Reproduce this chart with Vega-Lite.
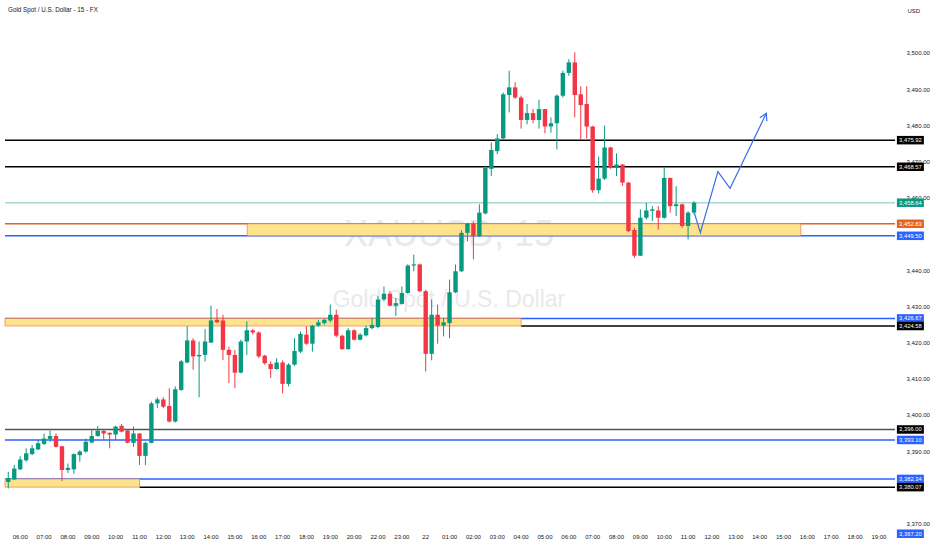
{
  "$schema": "https://vega.github.io/schema/vega-lite/v6.json",
  "description": "XAUUSD 15m candles with levels and zones",
  "width": 900,
  "height": 530,
  "autosize": {"type": "none"},
  "padding": {"left": 0, "top": 0, "right": 32, "bottom": 20},
  "background": "#ffffff",
  "datasets": {
    "candles": [
      {"idx":0,"open":3381.5,"high":3384.3,"low":3379.7,"close":3382.6},
      {"idx":1,"open":3382.2,"high":3386.2,"low":3382.0,"close":3385.2},
      {"idx":2,"open":3385.0,"high":3388.6,"low":3384.8,"close":3387.7},
      {"idx":3,"open":3387.5,"high":3390.8,"low":3387.1,"close":3389.4},
      {"idx":4,"open":3389.2,"high":3391.7,"low":3388.9,"close":3390.8},
      {"idx":5,"open":3390.5,"high":3393.1,"low":3390.3,"close":3392.2},
      {"idx":6,"open":3392.0,"high":3394.9,"low":3391.7,"close":3393.5},
      {"idx":7,"open":3393.4,"high":3395.7,"low":3392.6,"close":3394.2},
      {"idx":8,"open":3394.2,"high":3394.9,"low":3391.0,"close":3391.2},
      {"idx":9,"open":3391.4,"high":3391.4,"low":3381.8,"close":3384.8},
      {"idx":10,"open":3384.8,"high":3386.6,"low":3384.0,"close":3385.4},
      {"idx":11,"open":3385.0,"high":3389.4,"low":3383.8,"close":3389.2},
      {"idx":12,"open":3388.9,"high":3390.3,"low":3387.1,"close":3389.9},
      {"idx":13,"open":3389.9,"high":3393.5,"low":3389.6,"close":3392.6},
      {"idx":14,"open":3392.4,"high":3396.0,"low":3392.2,"close":3394.2},
      {"idx":15,"open":3394.2,"high":3397.0,"low":3394.0,"close":3395.7},
      {"idx":16,"open":3395.6,"high":3396.0,"low":3393.3,"close":3394.9},
      {"idx":17,"open":3395.1,"high":3395.1,"low":3390.8,"close":3394.6},
      {"idx":18,"open":3394.6,"high":3397.0,"low":3393.1,"close":3396.8},
      {"idx":19,"open":3397.0,"high":3397.5,"low":3395.2,"close":3395.4},
      {"idx":20,"open":3395.7,"high":3396.0,"low":3392.2,"close":3392.3},
      {"idx":21,"open":3392.3,"high":3396.8,"low":3391.2,"close":3394.9},
      {"idx":22,"open":3394.9,"high":3394.9,"low":3386.2,"close":3388.7},
      {"idx":23,"open":3388.7,"high":3392.6,"low":3386.2,"close":3392.3},
      {"idx":24,"open":3392.3,"high":3403.7,"low":3392.2,"close":3403.2},
      {"idx":25,"open":3403.2,"high":3404.9,"low":3401.9,"close":3404.3},
      {"idx":26,"open":3404.3,"high":3404.9,"low":3401.9,"close":3402.3},
      {"idx":27,"open":3402.5,"high":3407.4,"low":3397.9,"close":3398.2},
      {"idx":28,"open":3398.2,"high":3407.9,"low":3397.9,"close":3407.1},
      {"idx":29,"open":3406.9,"high":3415.2,"low":3406.7,"close":3414.8},
      {"idx":30,"open":3414.5,"high":3424.5,"low":3414.3,"close":3420.6},
      {"idx":31,"open":3420.6,"high":3421.2,"low":3412.5,"close":3416.2},
      {"idx":32,"open":3416.2,"high":3420.3,"low":3404.9,"close":3416.6},
      {"idx":33,"open":3416.6,"high":3423.7,"low":3414.8,"close":3420.3},
      {"idx":34,"open":3420.0,"high":3430.2,"low":3419.9,"close":3426.1},
      {"idx":35,"open":3426.3,"high":3429.3,"low":3425.4,"close":3425.6},
      {"idx":36,"open":3426.1,"high":3427.7,"low":3415.2,"close":3418.0},
      {"idx":37,"open":3418.0,"high":3418.9,"low":3408.8,"close":3416.6},
      {"idx":38,"open":3416.6,"high":3418.0,"low":3407.4,"close":3411.7},
      {"idx":39,"open":3411.7,"high":3420.8,"low":3411.5,"close":3420.3},
      {"idx":40,"open":3420.3,"high":3425.9,"low":3416.6,"close":3423.4},
      {"idx":41,"open":3423.4,"high":3423.7,"low":3422.2,"close":3422.8},
      {"idx":42,"open":3422.8,"high":3423.1,"low":3415.7,"close":3416.2},
      {"idx":43,"open":3416.4,"high":3416.6,"low":3413.9,"close":3414.3},
      {"idx":44,"open":3414.1,"high":3414.8,"low":3410.2,"close":3412.7},
      {"idx":45,"open":3412.7,"high":3415.7,"low":3412.5,"close":3414.5},
      {"idx":46,"open":3414.5,"high":3415.1,"low":3406.0,"close":3408.6},
      {"idx":47,"open":3408.6,"high":3414.3,"low":3407.9,"close":3413.9},
      {"idx":48,"open":3413.9,"high":3421.2,"low":3413.6,"close":3417.7},
      {"idx":49,"open":3417.5,"high":3423.1,"low":3417.1,"close":3422.4},
      {"idx":50,"open":3422.2,"high":3424.5,"low":3419.4,"close":3419.7},
      {"idx":51,"open":3419.7,"high":3424.9,"low":3417.5,"close":3424.7},
      {"idx":52,"open":3424.7,"high":3426.3,"low":3424.3,"close":3425.6},
      {"idx":53,"open":3425.4,"high":3426.5,"low":3424.9,"close":3426.3},
      {"idx":54,"open":3426.1,"high":3430.5,"low":3425.6,"close":3427.7},
      {"idx":55,"open":3427.7,"high":3429.1,"low":3421.5,"close":3421.9},
      {"idx":56,"open":3421.9,"high":3422.2,"low":3418.0,"close":3418.2},
      {"idx":57,"open":3418.2,"high":3424.0,"low":3418.0,"close":3423.4},
      {"idx":58,"open":3423.4,"high":3423.7,"low":3420.6,"close":3420.8},
      {"idx":59,"open":3420.8,"high":3422.6,"low":3420.6,"close":3422.2},
      {"idx":60,"open":3422.0,"high":3424.7,"low":3421.7,"close":3424.0},
      {"idx":61,"open":3424.0,"high":3426.8,"low":3423.7,"close":3424.9},
      {"idx":62,"open":3424.3,"high":3432.8,"low":3424.0,"close":3431.9},
      {"idx":63,"open":3431.9,"high":3435.5,"low":3431.4,"close":3433.5},
      {"idx":64,"open":3433.5,"high":3434.2,"low":3430.0,"close":3430.2},
      {"idx":65,"open":3430.2,"high":3432.3,"low":3427.4,"close":3430.9},
      {"idx":66,"open":3430.7,"high":3435.5,"low":3430.5,"close":3433.7},
      {"idx":67,"open":3433.7,"high":3441.6,"low":3433.5,"close":3441.3},
      {"idx":68,"open":3441.3,"high":3444.3,"low":3439.7,"close":3441.6},
      {"idx":69,"open":3441.6,"high":3441.8,"low":3433.9,"close":3434.2},
      {"idx":70,"open":3434.2,"high":3434.6,"low":3412.0,"close":3416.9},
      {"idx":71,"open":3416.9,"high":3431.9,"low":3415.1,"close":3427.7},
      {"idx":72,"open":3427.7,"high":3430.5,"low":3419.7,"close":3424.7},
      {"idx":73,"open":3424.7,"high":3426.8,"low":3421.7,"close":3425.6},
      {"idx":74,"open":3425.4,"high":3437.4,"low":3421.2,"close":3433.9},
      {"idx":75,"open":3433.9,"high":3441.6,"low":3433.7,"close":3439.7},
      {"idx":76,"open":3439.7,"high":3451.0,"low":3439.5,"close":3450.3},
      {"idx":77,"open":3450.3,"high":3453.1,"low":3448.0,"close":3452.9},
      {"idx":78,"open":3452.9,"high":3453.5,"low":3443.0,"close":3449.4},
      {"idx":79,"open":3449.4,"high":3458.2,"low":3449.2,"close":3455.9},
      {"idx":80,"open":3455.7,"high":3468.8,"low":3455.4,"close":3468.3},
      {"idx":81,"open":3468.0,"high":3475.3,"low":3466.0,"close":3473.2},
      {"idx":82,"open":3472.9,"high":3477.6,"low":3472.0,"close":3476.4},
      {"idx":83,"open":3476.4,"high":3489.1,"low":3476.2,"close":3488.6},
      {"idx":84,"open":3488.4,"high":3495.1,"low":3483.6,"close":3490.5},
      {"idx":85,"open":3490.5,"high":3491.9,"low":3487.3,"close":3487.7},
      {"idx":86,"open":3487.7,"high":3488.2,"low":3479.1,"close":3481.5},
      {"idx":87,"open":3481.5,"high":3485.9,"low":3480.3,"close":3483.4},
      {"idx":88,"open":3483.4,"high":3484.5,"low":3480.6,"close":3481.5},
      {"idx":89,"open":3481.5,"high":3487.1,"low":3479.1,"close":3484.5},
      {"idx":90,"open":3484.5,"high":3484.5,"low":3477.8,"close":3479.7},
      {"idx":91,"open":3479.7,"high":3482.2,"low":3478.0,"close":3480.6},
      {"idx":92,"open":3480.6,"high":3488.6,"low":3473.4,"close":3488.2},
      {"idx":93,"open":3488.2,"high":3495.1,"low":3487.7,"close":3494.5},
      {"idx":94,"open":3494.5,"high":3498.3,"low":3493.7,"close":3497.4},
      {"idx":95,"open":3497.4,"high":3500.2,"low":3482.2,"close":3488.4},
      {"idx":96,"open":3488.6,"high":3490.8,"low":3476.2,"close":3485.6},
      {"idx":97,"open":3485.9,"high":3490.8,"low":3476.4,"close":3479.7},
      {"idx":98,"open":3479.7,"high":3479.9,"low":3461.4,"close":3462.1},
      {"idx":99,"open":3462.1,"high":3471.4,"low":3461.2,"close":3465.3},
      {"idx":100,"open":3465.3,"high":3480.0,"low":3464.9,"close":3473.9},
      {"idx":101,"open":3473.9,"high":3474.1,"low":3468.0,"close":3468.3},
      {"idx":102,"open":3468.3,"high":3472.3,"low":3466.0,"close":3469.2},
      {"idx":103,"open":3469.2,"high":3469.2,"low":3463.3,"close":3464.2},
      {"idx":104,"open":3464.2,"high":3464.4,"low":3450.5,"close":3450.8},
      {"idx":105,"open":3451.1,"high":3451.7,"low":3443.4,"close":3444.0},
      {"idx":106,"open":3444.0,"high":3456.8,"low":3443.9,"close":3454.5},
      {"idx":107,"open":3454.5,"high":3458.6,"low":3454.0,"close":3456.5},
      {"idx":108,"open":3456.4,"high":3457.7,"low":3453.6,"close":3456.8},
      {"idx":109,"open":3456.5,"high":3457.7,"low":3451.2,"close":3454.5},
      {"idx":110,"open":3454.5,"high":3468.3,"low":3454.2,"close":3465.5},
      {"idx":111,"open":3465.5,"high":3465.5,"low":3455.9,"close":3457.7},
      {"idx":112,"open":3457.7,"high":3463.2,"low":3455.0,"close":3458.2},
      {"idx":113,"open":3458.2,"high":3458.4,"low":3451.7,"close":3452.2},
      {"idx":114,"open":3452.2,"high":3456.3,"low":3448.5,"close":3455.9},
      {"idx":115,"open":3455.9,"high":3459.1,"low":3455.4,"close":3458.64}
    ],
    "times": [
      {"idx":2,"label":"06:00"},{"idx":6,"label":"07:00"},{"idx":10,"label":"08:00"},{"idx":14,"label":"09:00"},
      {"idx":18,"label":"10:00"},{"idx":22,"label":"11:00"},{"idx":26,"label":"12:00"},{"idx":30,"label":"13:00"},
      {"idx":34,"label":"14:00"},{"idx":38,"label":"15:00"},{"idx":42,"label":"16:00"},{"idx":46,"label":"17:00"},
      {"idx":50,"label":"18:00"},{"idx":54,"label":"19:00"},{"idx":58,"label":"20:00"},{"idx":62,"label":"22:00"},
      {"idx":66,"label":"23:00"},{"idx":70,"label":"22"},{"idx":74,"label":"01:00"},{"idx":78,"label":"02:00"},
      {"idx":82,"label":"03:00"},{"idx":86,"label":"04:00"},{"idx":90,"label":"05:00"},{"idx":94,"label":"06:00"},
      {"idx":98,"label":"07:00"},{"idx":102,"label":"08:00"},{"idx":106,"label":"09:00"},{"idx":110,"label":"10:00"},
      {"idx":114,"label":"11:00"},{"idx":118,"label":"12:00"},{"idx":122,"label":"13:00"},{"idx":126,"label":"14:00"},
      {"idx":130,"label":"15:00"},{"idx":134,"label":"16:00"},{"idx":138,"label":"17:00"},{"idx":142,"label":"18:00"},
      {"idx":146,"label":"19:00"}
    ],
    "levels": [
      {"price":3475.92,"from":-0.55,"kind":"black"},
      {"price":3468.57,"from":-0.55,"kind":"black"},
      {"price":3458.64,"from":-0.55,"kind":"lastline"},
      {"price":3452.83,"from":-0.55,"kind":"orange"},
      {"price":3449.50,"from":-0.55,"kind":"blue"},
      {"price":3426.67,"from":-0.55,"kind":"blue"},
      {"price":3424.58,"from":86.0,"kind":"black"},
      {"price":3396.00,"from":-0.55,"kind":"grey"},
      {"price":3393.10,"from":-0.55,"kind":"blue"},
      {"price":3382.34,"from":-0.55,"kind":"blue"},
      {"price":3380.07,"from":22.0,"kind":"black"}
    ],
    "zones": [
      {"lo":3449.50,"hi":3452.83,"from":40.07,"to":132.9},
      {"lo":3424.58,"hi":3426.67,"from":-0.55,"to":86.0},
      {"lo":3380.07,"hi":3382.34,"from":-0.55,"to":22.0}
    ],
    "tags": [
      {"price":3475.92,"kind":"black"},
      {"price":3468.57,"kind":"black"},
      {"price":3458.64,"kind":"last"},
      {"price":3452.83,"kind":"orange"},
      {"price":3449.50,"kind":"blue"},
      {"price":3426.67,"kind":"blue"},
      {"price":3424.58,"kind":"black"},
      {"price":3396.00,"kind":"black"},
      {"price":3393.10,"kind":"blue"},
      {"price":3382.34,"kind":"blue"},
      {"price":3380.07,"kind":"black"},
      {"price":3367.20,"kind":"blue"}
    ],
    "arrow": [
      {"seg":"path","ord":0,"idx":115.07,"price":3455.72},
      {"seg":"path","ord":1,"idx":116.06,"price":3450.36},
      {"seg":"path","ord":2,"idx":119.0,"price":3467.21},
      {"seg":"path","ord":3,"idx":121.04,"price":3462.62},
      {"seg":"path","ord":4,"idx":127.12,"price":3483.34},
      {"seg":"head","ord":0,"idx":126.03,"price":3482.1},
      {"seg":"head","ord":1,"idx":127.12,"price":3483.34},
      {"seg":"head","ord":2,"idx":127.21,"price":3481.13}
    ]
  },
  "layer": [
    {
      "data": {"values": [{"label": "XAUUSD, 15"}]},
      "mark": {"type": "text", "fontSize": 36, "color": "#e9e9eb", "align": "center", "baseline": "middle"},
      "encoding": {
        "x": {
          "datum": 73.9, "type": "quantitative",
          "scale": {"domain": [-0.55, 148.7], "nice": false, "zero": false},
          "axis": {"title": null, "labels": false}
        },
        "y": {
          "datum": 3449.72, "type": "quantitative",
          "scale": {"domain": [3368.23, 3514.64], "nice": false, "zero": false},
          "axis": {
            "title": "USD", "orient": "right", "labelPadding": 6, "format": ",.2f", "labelOverlap": false,
            "values": [3370,3390,3400,3410,3420,3430,3440,3460,3470,3480,3490,3500],
            "titleAngle": 0, "titleAlign": "left", "titleBaseline": "middle", "titleX": 7, "titleY": 10,
            "titleFontSize": 6, "titleFontWeight": "normal", "titleColor": "#131722"
          }
        },
        "text": {"field": "label"}
      }
    },
    {
      "data": {"values": [{"label": "Gold Spot / U.S. Dollar"}]},
      "mark": {"type": "text", "fontSize": 23, "color": "#e9e9eb", "align": "center", "baseline": "middle"},
      "encoding": {
        "x": {"datum": 73.9, "type": "quantitative"},
        "y": {"datum": 3431.77, "type": "quantitative"},
        "text": {"field": "label"}
      }
    },
    {
      "data": {"name": "times"},
      "mark": {"type": "text", "fontSize": 6, "color": "#131722", "align": "center", "baseline": "middle"},
      "encoding": {
        "x": {"field": "idx", "type": "quantitative"},
        "y": {"datum": 3366.2, "type": "quantitative"},
        "text": {"field": "label"}
      }
    },
    {
      "data": {"name": "levels"},
      "mark": {"type": "rule"},
      "encoding": {
        "x": {"field": "from", "type": "quantitative"},
        "x2": {"datum": 148.7},
        "y": {"field": "price", "type": "quantitative"},
        "color": {
          "field": "kind", "type": "nominal", "legend": null,
          "scale": {"domain": ["black","grey","blue","orange","last","lastline"], "range": ["#000000","#50535e","#2962ff","#e8621f","#089981","#a9d8d1"]}
        },
        "strokeWidth": {
          "field": "kind", "type": "nominal", "legend": null,
          "scale": {"domain": ["black","grey","blue","orange","lastline"], "range": [1.5,1.5,1,1,1]}
        }
      }
    },
    {
      "data": {"name": "zones"},
      "mark": {"type": "rect", "fill": "#fde48c", "stroke": "#ee7d45", "strokeOpacity": 0.7, "strokeWidth": 1},
      "encoding": {
        "x": {"field": "from", "type": "quantitative"},
        "x2": {"field": "to"},
        "y": {"field": "lo", "type": "quantitative"},
        "y2": {"field": "hi"}
      }
    },
    {
      "data": {"name": "candles"},
      "mark": {"type": "rule", "strokeWidth": 1},
      "encoding": {
        "x": {"field": "idx", "type": "quantitative"},
        "y": {"field": "low", "type": "quantitative"},
        "y2": {"field": "high"},
        "color": {"condition": {"test": "datum.close >= datum.open", "value": "#089981"}, "value": "#f23645"}
      }
    },
    {
      "data": {"name": "candles"},
      "mark": {"type": "bar", "width": 4.4},
      "encoding": {
        "x": {"field": "idx", "type": "quantitative"},
        "y": {"field": "open", "type": "quantitative"},
        "y2": {"field": "close"},
        "color": {"condition": {"test": "datum.close >= datum.open", "value": "#089981"}, "value": "#f23645"}
      }
    },
    {
      "data": {"name": "arrow"},
      "mark": {"type": "line", "color": "#3a6ee6", "strokeWidth": 1.2},
      "encoding": {
        "x": {"field": "idx", "type": "quantitative"},
        "y": {"field": "price", "type": "quantitative"},
        "detail": {"field": "seg"},
        "order": {"field": "ord"}
      }
    },
    {
      "data": {"name": "tags"},
      "mark": {"type": "tick", "orient": "horizontal", "size": 27, "thickness": 8.5, "opacity": 1},
      "encoding": {
        "x": {"datum": 151.28, "type": "quantitative"},
        "y": {"field": "price", "type": "quantitative"},
        "color": {
          "field": "kind", "type": "nominal", "legend": null,
          "scale": {"domain": ["black","grey","blue","orange","last","lastline"], "range": ["#000000","#50535e","#2962ff","#e8621f","#089981","#a9d8d1"]}
        }
      }
    },
    {
      "data": {"name": "tags"},
      "mark": {"type": "text", "color": "#ffffff", "fontSize": 5.8, "align": "center", "baseline": "middle"},
      "encoding": {
        "x": {"datum": 151.28, "type": "quantitative"},
        "y": {"field": "price", "type": "quantitative"},
        "text": {"field": "price", "type": "quantitative", "format": ",.2f"}
      }
    },
    {
      "data": {"values": [{"label": "Gold Spot / U.S. Dollar - 15 - FX"}]},
      "mark": {"type": "text", "fontSize": 6.3, "color": "#131722", "align": "left", "baseline": "middle"},
      "encoding": {
        "x": {"datum": -0.05, "type": "quantitative"},
        "y": {"datum": 3511.9, "type": "quantitative"},
        "text": {"field": "label"}
      }
    }
  ],
  "config": {
    "view": {"stroke": null},
    "font": "Liberation Sans",
    "axis": {"grid": false, "domain": false, "ticks": false, "labelColor": "#131722", "labelFontSize": 6},
    "axisX": {"labels": false, "title": null}
  }
}
